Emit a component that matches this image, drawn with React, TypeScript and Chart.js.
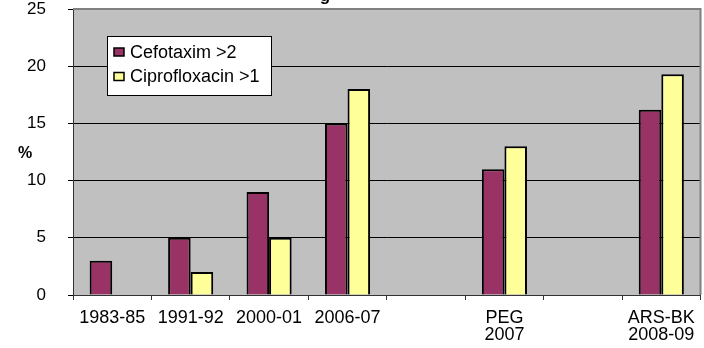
import React, { useEffect, useRef } from "react";
import { Chart, registerables } from "chart.js";

Chart.register(...registerables);

const categories: (string | string[])[] = [
  "1983-85",
  "1991-92",
  "2000-01",
  "2006-07",
  "",
  ["PEG", "2007"],
  "",
  ["ARS-BK", "2008-09"],
];
const cefotaxim: (number | null)[] = [3, 5, 9, 15, null, 11, null, 16.2];
const ciprofloxacin: (number | null)[] = [null, 2, 5, 18, null, 13, null, 19.3];
const seriesNames = ["Cefotaxim >2", "Ciprofloxacin >1"];
const seriesColors = ["#993366", "#FFFF99"];
const yTicks = { min: 0, max: 25, step: 5 };
const yTitle = "%";
const titleFragment = "g";

const FONT = "Arial, 'Liberation Sans', sans-serif";

const decorPlugin = {
  id: "decor",
  beforeDraw(chart: any) {
    const { ctx, chartArea: a } = chart;
    ctx.save();
    ctx.fillStyle = "#ffffff";
    ctx.fillRect(0, 0, chart.width, chart.height);
    ctx.fillStyle = "#C0C0C0";
    ctx.fillRect(a.left, a.top, a.right - a.left, a.bottom - a.top);
    ctx.restore();
  },
  beforeDatasetsDraw(chart: any) {
    const { ctx, chartArea: a } = chart;
    ctx.save();
    ctx.strokeStyle = "#808080";
    ctx.lineWidth = 2;
    ctx.beginPath();
    ctx.moveTo(a.left, a.top);
    ctx.lineTo(a.right, a.top);
    ctx.lineTo(a.right, a.bottom);
    ctx.stroke();
    ctx.restore();
  },
  afterDraw(chart: any) {
    const { ctx, chartArea: a } = chart;
    ctx.save();
    // partially visible title
    ctx.fillStyle = "#000";
    ctx.font = `bold 17px ${FONT}`;
    ctx.textAlign = "center";
    ctx.textBaseline = "alphabetic";
    ctx.fillText(titleFragment, 325, 0.5);
    // y-axis title
    ctx.font = `bold 16px ${FONT}`;
    ctx.textBaseline = "middle";
    ctx.fillText(yTitle, 25, (a.top + a.bottom) / 2 + 2);
    // legend box
    const bx = a.left + 34;
    const by = a.top + 27;
    const bw = 164;
    const bh = 59;
    ctx.fillStyle = "#fff";
    ctx.fillRect(bx, by, bw, bh);
    ctx.strokeStyle = "#000";
    ctx.lineWidth = 1;
    ctx.strokeRect(bx + 0.5, by + 0.5, bw, bh);
    ctx.font = `18px ${FONT}`;
    ctx.textAlign = "left";
    chart.data.datasets.forEach((ds: any, i: number) => {
      const cy = by + 16 + i * 24.5;
      ctx.fillStyle = ds.backgroundColor;
      ctx.fillRect(bx + 7, cy - 4, 10, 8);
      ctx.strokeStyle = "#000";
      ctx.lineWidth = 1.5;
      ctx.strokeRect(bx + 7, cy - 4, 10, 8);
      ctx.fillStyle = "#000";
      ctx.fillText(ds.label, bx + 23, cy + 1);
    });
    ctx.restore();
  },
};

export default function App() {
  const ref = useRef<HTMLCanvasElement | null>(null);
  useEffect(() => {
    if (!ref.current) return;
    const chart = new Chart(ref.current, {
      type: "bar",
      data: {
        labels: categories,
        datasets: [
          {
            label: seriesNames[0],
            data: cefotaxim,
            backgroundColor: seriesColors[0],
            borderColor: "#000",
            borderWidth: 2,
            categoryPercentage: 0.575,
            barPercentage: 1,
          },
          {
            label: seriesNames[1],
            data: ciprofloxacin,
            backgroundColor: seriesColors[1],
            borderColor: "#000",
            borderWidth: 2,
            categoryPercentage: 0.575,
            barPercentage: 1,
          },
        ],
      },
      options: {
        responsive: false,
        animation: false,
        layout: { padding: { top: 9, right: 3, left: 0, bottom: 0 } },
        plugins: {
          legend: { display: false },
          tooltip: { enabled: false },
          title: { display: false },
        },
        scales: {
          x: {
            offset: true,
            grid: {
              offset: true,
              drawOnChartArea: false,
              tickLength: 5,
              color: "#333",
            },
            border: { color: "#333", width: 1 },
            ticks: {
              color: "#000",
              font: { family: FONT, size: 18, lineHeight: 0.95 },
              padding: 9,
              maxRotation: 0,
              autoSkip: false,
            },
            afterFit: (s: any) => {
              s.height = 53;
            },
          },
          y: {
            min: yTicks.min,
            max: yTicks.max,
            ticks: {
              stepSize: yTicks.step,
              color: "#000",
              font: { family: FONT, size: 17 },
              padding: 22,
            },
            grid: { color: "#000", tickLength: 5 },
            border: { color: "#333", width: 1 },
            afterFit: (s: any) => {
              s.width = 73;
              s.paddingTop = 9;
              s.paddingBottom = 9;
            },
          },
        },
      },
      plugins: [decorPlugin],
    });
    return () => chart.destroy();
  }, []);
  return (
    <div style={{ position: "fixed", left: 0, top: 0, width: 704, height: 348 }}>
      <canvas ref={ref} width={704} height={348} style={{ display: "block" }} />
    </div>
  );
}
